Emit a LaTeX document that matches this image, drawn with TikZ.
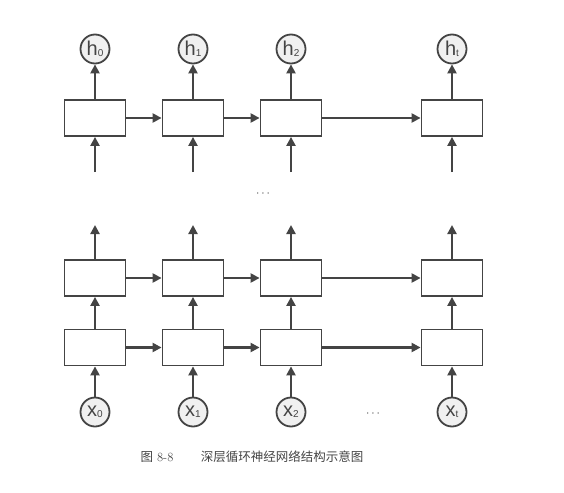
\documentclass[tikz,border=0pt]{standalone}
\usepackage{fontspec}
\setsansfont{Liberation Sans}
\newfontfamily\cjk{Noto Sans CJK SC}
\usetikzlibrary{arrows.meta}
\definecolor{ink}{HTML}{444444}
\begin{document}
\begin{tikzpicture}[x=1pt,y=-1pt,
  cell/.style={draw=ink,line width=1.8pt,minimum width=61pt,minimum height=36pt,inner sep=0pt},
  io/.style={circle,draw=ink,fill=gray!12,line width=1.8pt,minimum size=29pt,inner sep=0pt,font=\sffamily\fontsize{20}{20}\selectfont,text=ink},
  arr/.style={draw=ink,line width=2.2pt,-{Triangle[width=9pt,length=9pt]}},
  dots/.style={font=\fontsize{12}{12}\selectfont,text=ink}]
\useasboundingbox (0,0) rectangle (564,492);
\foreach \i/\x in {0/95,1/193,2/291,3/452}{
  \node[cell] (t\i) at (\x,118) {};
  \node[cell] (u\i) at (\x,278) {};
  \node[cell] (l\i) at (\x,347.5) {};
  \coordinate (tin\i) at (\x,172);
  \coordinate (uout\i) at (\x,225);
  \draw[arr] (tin\i) -- (t\i.south);
  \draw[arr] (u\i.north) -- (uout\i);
  \draw[arr] (l\i.north) -- (u\i.south);
}
\node[io] (h0) at (95,49) {h\raisebox{-1pt}{\fontsize{10}{10}\selectfont 0}};
\node[io] (h1) at (193,49) {h\raisebox{-1pt}{\fontsize{10}{10}\selectfont 1}};
\node[io] (h2) at (291,49) {h\raisebox{-1pt}{\fontsize{10}{10}\selectfont 2}};
\node[io] (h3) at (452,49) {h\raisebox{-1pt}{\fontsize{10}{10}\selectfont t}};
\node[io] (x0) at (95,412) {x\raisebox{-1pt}{\fontsize{10}{10}\selectfont 0}};
\node[io] (x1) at (193,412) {x\raisebox{-1pt}{\fontsize{10}{10}\selectfont 1}};
\node[io] (x2) at (291,412) {x\raisebox{-1pt}{\fontsize{10}{10}\selectfont 2}};
\node[io] (x3) at (452,412) {x\raisebox{-1pt}{\fontsize{10}{10}\selectfont t}};
\foreach \i in {0,1,2,3}{
  \draw[arr] (t\i.north) -- (h\i.south);
  \draw[arr] (x\i.north) -- (l\i.south);
}
\foreach \r in {t,u,l}{
  \draw[arr] (\r0.east) -- (\r1.west);
  \draw[arr] (\r1.east) -- (\r2.west);
  \draw[arr] (\r2.east) -- (\r3.west);
}
\node[dots] (d1) at (263,194) {$\cdots$};
\node[dots] (d2) at (373,414) {$\cdots$};
\node[text=ink,anchor=west,font=\fontsize{12.5}{12.5}\selectfont] (cap) at (137,457) {{\cjk 图} 8-8\hspace{2.2em}{\cjk 深层循环神经网络结构示意图}};
\end{tikzpicture}
\end{document}
